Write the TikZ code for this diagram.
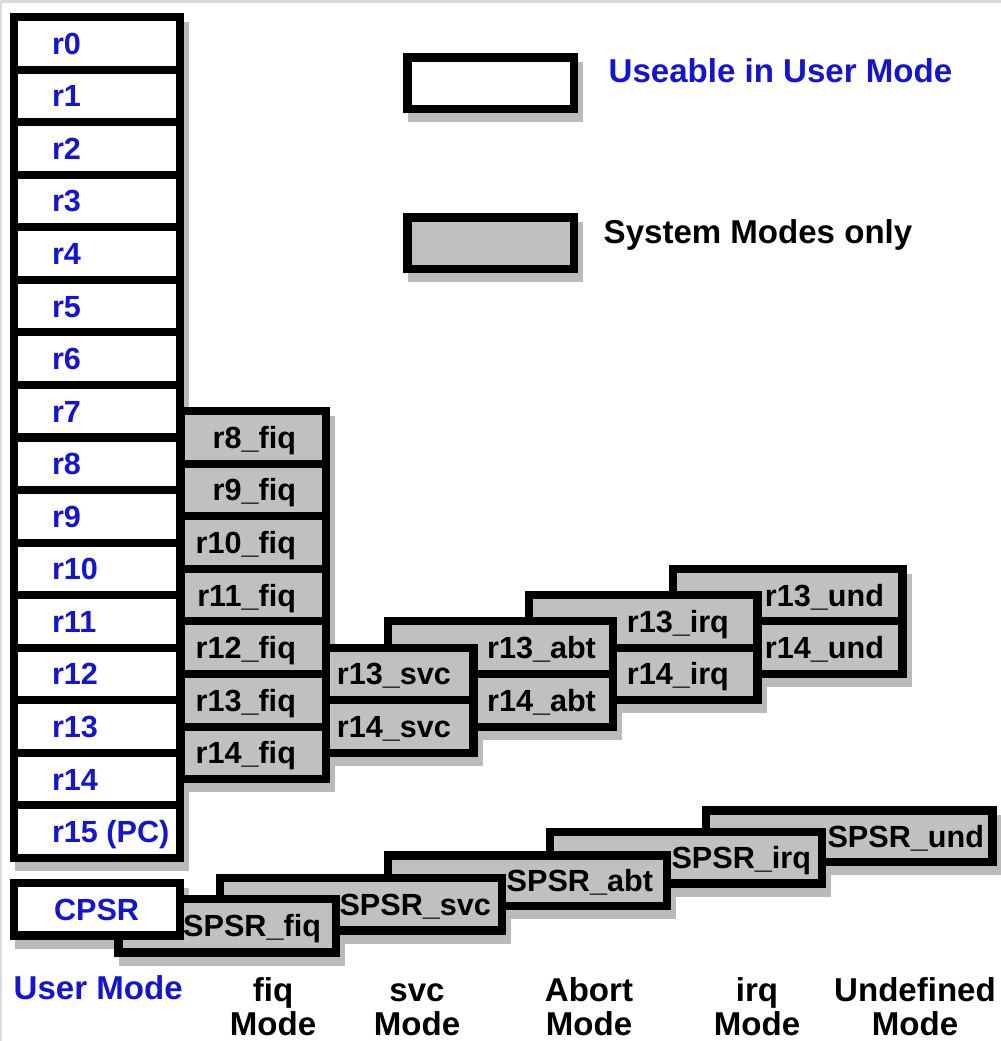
\documentclass[tikz,border=0pt]{standalone}
\usepackage{fontspec}
\setmainfont{Liberation Sans}
\usepackage{xcolor}
\definecolor{usrblue}{RGB}{20,20,215}
\definecolor{sysgray}{RGB}{192,192,192}
\definecolor{shadegray}{RGB}{186,186,186}
\definecolor{framegray}{RGB}{218,218,218}

\begin{document}
\begin{tikzpicture}[x=0.01cm,y=-0.01cm,
    cellbox/.style={line width=2.3pt,draw=black},
    userbox/.style={cellbox,fill=white},
    sysbox/.style={cellbox,fill=sysgray},
    shadowbox/.style={line width=2.3pt,draw=shadegray,fill=shadegray,xshift=0.05cm,yshift=-0.09cm},
    celltext/.style={inner sep=0pt,text height=6.2pt,text depth=0pt,font=\fontsize{8.7}{10}\selectfont\bfseries},
    usertext/.style={celltext,anchor=west,text=usrblue},
    systext/.style={celltext,anchor=east},
    keytext/.style={inner sep=0pt,anchor=base west,font=\fontsize{9.4}{11}\selectfont\bfseries},
    modetext/.style={inner sep=0pt,anchor=base,align=center,font=\fontsize{9.4}{9.6}\selectfont\bfseries}]
    \useasboundingbox (0,0) rectangle (1001,1041);
    % Background
    \fill[white] (0,0) rectangle (1001,1041);
    \fill[framegray] (0,0) rectangle (1001,3);
    \fill[framegray] (0,0) rectangle (2,1041);

    % Shadows
    \draw[shadowbox] (14,17) rectangle (180,858);
    \draw[shadowbox] (181,411.2) rectangle (326,779.1);
    \draw[shadowbox] (326,647.7) rectangle (473.5,752.8);
    \draw[shadowbox] (388,621.4) rectangle (613,726.6);
    \draw[shadowbox] (529,595.2) rectangle (757.5,700.3);
    \draw[shadowbox] (673,568.9) rectangle (902.5,674);
    \draw[shadowbox] (14,883) rectangle (180,935.5);
    \draw[shadowbox] (118.5,899) rectangle (336,952.5);
    \draw[shadowbox] (220,878) rectangle (502,930.5);
    \draw[shadowbox] (388,855.5) rectangle (667,906);
    \draw[shadowbox] (550,832) rectangle (822,883.5);
    \draw[shadowbox] (706,810.5) rectangle (992.5,862);
    \draw[shadowbox] (407.5,57.5) rectangle (574,109);
    \draw[shadowbox] (407.5,217.5) rectangle (574,269);

    % Undefined mode
    \draw[sysbox] (673,568.9) rectangle (902.5,621.4) node[systext] (r13und) at (888,595.2) {r13\_und};
    \draw[sysbox] (673,621.4) rectangle (902.5,674) node[systext] (r14und) at (888,647.7) {r14\_und};
    % irq mode
    \draw[sysbox] (529,595.2) rectangle (757.5,647.7) node[systext] (r13irq) at (733,621.4) {r13\_irq};
    \draw[sysbox] (529,647.7) rectangle (757.5,700.3) node[systext] (r14irq) at (733,674) {r14\_irq};
    % Abort mode
    \draw[sysbox] (388,621.4) rectangle (613,674) node[systext] (r13abt) at (600,647.7) {r13\_abt};
    \draw[sysbox] (388,674) rectangle (613,726.6) node[systext] (r14abt) at (600,700.3) {r14\_abt};
    % svc mode
    \draw[sysbox] (326,647.7) rectangle (473.5,700.3) node[systext] (r13svc) at (455,674) {r13\_svc};
    \draw[sysbox] (326,700.3) rectangle (473.5,752.8) node[systext] (r14svc) at (455,726.6) {r14\_svc};
    % fiq mode
    \draw[sysbox] (181,411.2) rectangle (326,463.8) node[systext] (r8fiq) at (300,437.5) {r8\_fiq};
    \draw[sysbox] (181,463.8) rectangle (326,516.3) node[systext] (r9fiq) at (300,490) {r9\_fiq};
    \draw[sysbox] (181,516.3) rectangle (326,568.9) node[systext] (r10fiq) at (300,542.6) {r10\_fiq};
    \draw[sysbox] (181,568.9) rectangle (326,621.4) node[systext] (r11fiq) at (300,595.2) {r11\_fiq};
    \draw[sysbox] (181,621.4) rectangle (326,674) node[systext] (r12fiq) at (300,647.7) {r12\_fiq};
    \draw[sysbox] (181,674) rectangle (326,726.6) node[systext] (r13fiq) at (300,700.3) {r13\_fiq};
    \draw[sysbox] (181,726.6) rectangle (326,779.1) node[systext] (r14fiq) at (300,752.8) {r14\_fiq};

    % User mode registers
    \draw[userbox] (14,17) rectangle (180,69.6) node[usertext] (r0) at (48,43.3) {r0};
    \draw[userbox] (14,69.6) rectangle (180,122.1) node[usertext] (r1) at (48,95.8) {r1};
    \draw[userbox] (14,122.1) rectangle (180,174.7) node[usertext] (r2) at (48,148.4) {r2};
    \draw[userbox] (14,174.7) rectangle (180,227.2) node[usertext] (r3) at (48,201) {r3};
    \draw[userbox] (14,227.2) rectangle (180,279.8) node[usertext] (r4) at (48,253.5) {r4};
    \draw[userbox] (14,279.8) rectangle (180,332.4) node[usertext] (r5) at (48,306.1) {r5};
    \draw[userbox] (14,332.4) rectangle (180,384.9) node[usertext] (r6) at (48,358.6) {r6};
    \draw[userbox] (14,384.9) rectangle (180,437.5) node[usertext] (r7) at (48,411.2) {r7};
    \draw[userbox] (14,437.5) rectangle (180,490) node[usertext] (r8) at (48,463.8) {r8};
    \draw[userbox] (14,490) rectangle (180,542.6) node[usertext] (r9) at (48,516.3) {r9};
    \draw[userbox] (14,542.6) rectangle (180,595.2) node[usertext] (r10) at (48,568.9) {r10};
    \draw[userbox] (14,595.2) rectangle (180,647.7) node[usertext] (r11) at (48,621.4) {r11};
    \draw[userbox] (14,647.7) rectangle (180,700.3) node[usertext] (r12) at (48,674) {r12};
    \draw[userbox] (14,700.3) rectangle (180,752.8) node[usertext] (r13) at (48,726.6) {r13};
    \draw[userbox] (14,752.8) rectangle (180,805.4) node[usertext] (r14) at (48,779.1) {r14};
    \draw[userbox] (14,805.4) rectangle (180,858) node[usertext] (r15) at (48,831.7) {r15 (PC)};

    % Status registers
    \draw[sysbox] (706,810.5) rectangle (992.5,862) node[systext] (spsrund) at (988,836.2) {SPSR\_und};
    \draw[sysbox] (550,832) rectangle (822,883.5) node[systext] (spsrirq) at (815,857.7) {SPSR\_irq};
    \draw[sysbox] (388,855.5) rectangle (667,906) node[systext] (spsrabt) at (657,880.7) {SPSR\_abt};
    \draw[sysbox] (220,878) rectangle (502,930.5) node[systext] (spsrsvc) at (495,904.2) {SPSR\_svc};
    \draw[sysbox] (118.5,899) rectangle (336,952.5) node[systext] (spsrfiq) at (325,925.7) {SPSR\_fiq};
    \draw[userbox] (14,883) rectangle (180,935.5) node[usertext] (cpsr) at (50,909.2) {CPSR};

    % Key
    \draw[userbox] (407.5,57.5) rectangle (574,109);
    \draw[sysbox] (407.5,217.5) rectangle (574,269);
    \node[keytext,text=usrblue] (userkey) at (608,82) {Useable in User Mode};
    \node[keytext] (syskey) at (603,243) {System Modes only};

    % Modes
    \node[keytext,text=usrblue] (usermode) at (13,999) {User Mode};
    \node[modetext] (fiqmode) at (273,1035) {fiq\\Mode};
    \node[modetext] (svcmode) at (417,1035) {svc\\Mode};
    \node[modetext] (abtmode) at (589,1035) {Abort\\Mode};
    \node[modetext] (irqmode) at (757,1035) {irq\\Mode};
    \node[modetext] (undmode) at (915,1035) {Undefined\\Mode};
\end{tikzpicture}
\end{document}
